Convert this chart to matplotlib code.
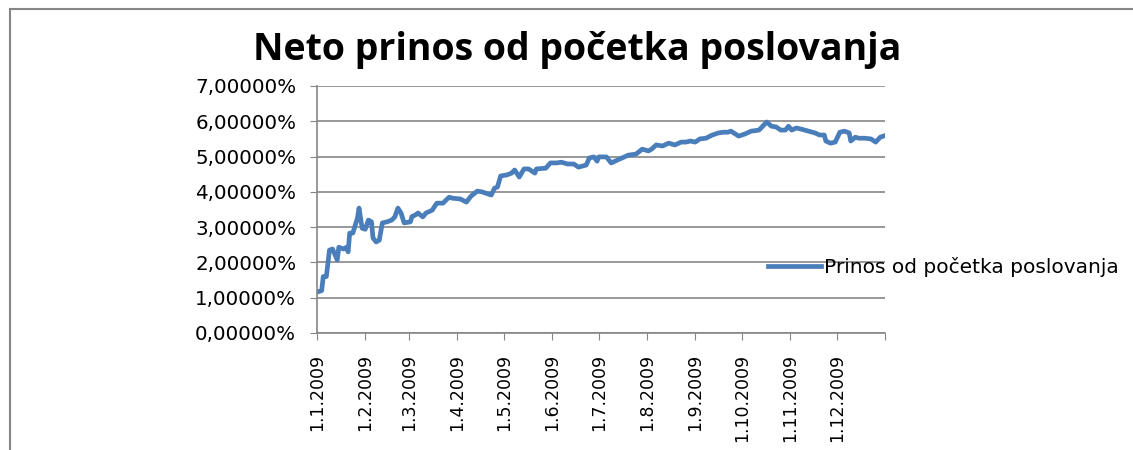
import numpy as np
import pandas as pd
import matplotlib
matplotlib.use("Agg")
import matplotlib.pyplot as plt
import matplotlib.dates as mdates
from matplotlib.lines import Line2D
from matplotlib.ticker import FuncFormatter

# --- Data (day of year 2009, net return in %) ---
days = [0, 3, 4, 6, 8, 10, 13, 14, 17, 19, 20, 21, 23, 24, 26, 27, 29, 31, 33, 35,
        36, 38, 40, 42, 45, 48, 50, 52, 54, 56, 60, 61, 63, 65, 66, 68, 70, 74, 77, 81,
        83, 85, 87, 92, 96, 99, 103, 106, 112, 114, 116, 118, 122, 125, 127, 130, 133,
        136, 140, 141, 147, 150, 154, 157, 161, 165, 168, 173, 175, 178, 180, 181, 186,
        189, 193, 196, 200, 205, 209, 213, 215, 218, 222, 226, 230, 234, 237, 240, 243,
        246, 250, 254, 258, 261, 264, 266, 271, 275, 279, 284, 286, 289, 292, 295, 298,
        301, 303, 305, 308, 311, 316, 320, 323, 326, 327, 330, 333, 336, 339, 342, 343,
        346, 348, 352, 356, 359, 362, 364]
prinos = [1.16, 1.20, 1.60, 1.60, 2.35, 2.38, 2.07, 2.43, 2.38, 2.43, 2.30, 2.83, 2.83,
          2.97, 3.26, 3.54, 2.97, 2.94, 3.20, 3.15, 2.69, 2.58, 2.63, 3.12, 3.15, 3.20,
          3.29, 3.54, 3.40, 3.12, 3.15, 3.30, 3.34, 3.40, 3.36, 3.29, 3.40, 3.48, 3.68,
          3.68, 3.77, 3.85, 3.82, 3.80, 3.71, 3.88, 4.02, 4.00, 3.91, 4.10, 4.14, 4.45,
          4.48, 4.53, 4.62, 4.42, 4.65, 4.65, 4.53, 4.65, 4.67, 4.82, 4.82, 4.84, 4.79,
          4.79, 4.70, 4.76, 4.96, 4.99, 4.87, 4.99, 4.99, 4.82, 4.90, 4.96, 5.04, 5.07,
          5.21, 5.16, 5.21, 5.33, 5.30, 5.38, 5.33, 5.41, 5.41, 5.44, 5.41, 5.50, 5.52,
          5.61, 5.67, 5.69, 5.69, 5.72, 5.58, 5.64, 5.72, 5.75, 5.84, 5.98, 5.86, 5.84,
          5.75, 5.75, 5.86, 5.75, 5.81, 5.78, 5.72, 5.67, 5.61, 5.61, 5.44, 5.38, 5.41,
          5.69, 5.72, 5.67, 5.44, 5.55, 5.52, 5.52, 5.50, 5.41, 5.55, 5.58]

month_ticks = pd.date_range("2009-01-01", "2010-01-01", freq="MS")
dates = pd.Timestamp("2009-01-01") + pd.to_timedelta(days, unit="D")

title = "Neto prinos od početka poslovanja"
series_label = "Prinos od početka poslovanja"

# --- Figure ---
fig = plt.figure(figsize=(11.33, 4.5), dpi=100)
ax = fig.add_axes([0.2798, 0.26, 0.5013, 0.5489])

ax.plot(dates, prinos, color="#4a7ebb", linewidth=3.4,
        solid_joinstyle="round", label=series_label)

ax.set_ylim(0, 7)
ax.set_yticks(np.arange(0, 8, 1))
ax.yaxis.set_major_formatter(
    FuncFormatter(lambda v, p: f"{v:.5f}%".replace(".", ",")))

ax.set_xlim(month_ticks[0], month_ticks[-1])
ax.set_xticks(month_ticks)
ax.xaxis.set_major_formatter(FuncFormatter(
    lambda v, p: "" if mdates.num2date(v).year > 2009
    else f"{mdates.num2date(v).day}.{mdates.num2date(v).month}.2009"))

grey = "#868686"
ax.grid(axis="y", color=grey, linewidth=1.2)
ax.set_axisbelow(True)
for side in ["top", "right"]:
    ax.spines[side].set_visible(False)
for side in ["left", "bottom"]:
    ax.spines[side].set_color(grey)
    ax.spines[side].set_linewidth(1.2)

ax.tick_params(axis="y", length=5, color=grey, pad=10, labelsize=14.3)
ax.tick_params(axis="x", length=5, color=grey, pad=10, labelsize=12.5,
               labelrotation=90)

# title
fig.text(0.509, 0.888, title, ha="center", va="center",
         fontsize=27, fontweight="bold", family="Open Sans")

# legend
ax.legend(loc="center left", bbox_to_anchor=(0.678, 0.407),
          bbox_transform=fig.transFigure, frameon=False,
          handlelength=2.6, handletextpad=0.15, borderpad=0, borderaxespad=0,
          prop={"size": 14.5})

# outer frame (left and top edges only)
fig.add_artist(Line2D([0.0088, 0.0088], [0.0, 0.98], color=grey, linewidth=1.5))
fig.add_artist(Line2D([0.0088, 1.0], [0.98, 0.98], color=grey, linewidth=1.5))

fig.savefig("out.png", dpi=100)
